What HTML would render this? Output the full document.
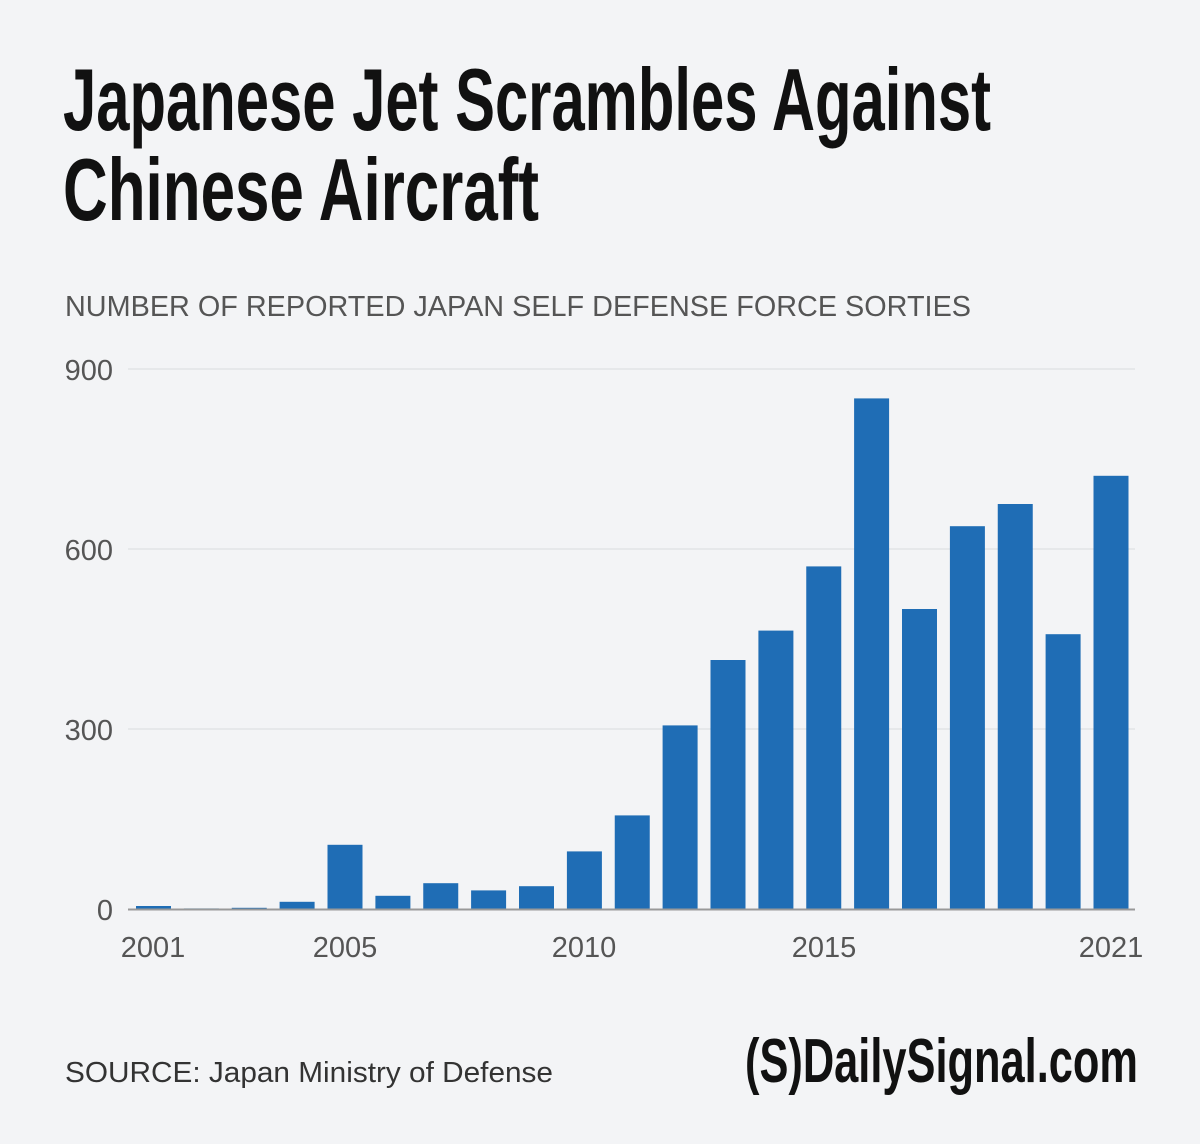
<!DOCTYPE html>
<html><head><meta charset="utf-8"><style>
html,body{margin:0;padding:0;background:#f3f4f6;}
svg{display:block}
</style></head><body>
<svg width="1200" height="1144" viewBox="0 0 1200 1144" xmlns="http://www.w3.org/2000/svg">
<rect width="1200" height="1144" fill="#f3f4f6"/>
<g font-family="'Liberation Sans Narrow','Liberation Sans',sans-serif" font-weight="bold" fill="#111">
<text x="63" y="130" font-size="88" textLength="928" lengthAdjust="spacingAndGlyphs">Japanese Jet Scrambles Against</text>
<text x="63" y="220" font-size="88" textLength="476" lengthAdjust="spacingAndGlyphs">Chinese Aircraft</text>
</g>
<text x="65" y="316" font-family="'Liberation Sans',sans-serif" fill="#555" font-size="29" textLength="906" lengthAdjust="spacingAndGlyphs">NUMBER OF REPORTED JAPAN SELF DEFENSE FORCE SORTIES</text>
<g stroke="#e2e3e6" stroke-width="1.5">
<line x1="128" y1="369" x2="1135" y2="369"/>
<line x1="128" y1="549" x2="1135" y2="549"/>
<line x1="128" y1="729" x2="1135" y2="729"/>
</g>
<g font-family="'Liberation Sans',sans-serif" fill="#555" font-size="29" text-anchor="end">
<text x="113" y="380">900</text>
<text x="113" y="560">600</text>
<text x="113" y="740">300</text>
<text x="113" y="920">0</text>
</g>
<g fill="#1f6db5">
<rect x="136" y="906" width="35" height="3"/>
<rect x="183.9" y="908.4" width="35" height="0.6"/>
<rect x="231.75" y="907.8" width="35" height="1.2"/>
<rect x="279.6" y="901.8" width="35" height="7.2"/>
<rect x="327.5" y="844.8" width="35" height="64.2"/>
<rect x="375.4" y="895.8" width="35" height="13.2"/>
<rect x="423.25" y="883.2" width="35" height="25.8"/>
<rect x="471.1" y="890.4" width="35" height="18.6"/>
<rect x="519" y="886.2" width="35" height="22.8"/>
<rect x="566.9" y="851.4" width="35" height="57.6"/>
<rect x="614.75" y="815.4" width="35" height="93.6"/>
<rect x="662.6" y="725.4" width="35" height="183.6"/>
<rect x="710.5" y="660" width="35" height="249"/>
<rect x="758.4" y="630.6" width="35" height="278.4"/>
<rect x="806.25" y="566.4" width="35" height="342.6"/>
<rect x="854.1" y="398.4" width="35" height="510.6"/>
<rect x="902" y="609" width="35" height="300"/>
<rect x="949.9" y="526.2" width="35" height="382.8"/>
<rect x="997.75" y="504" width="35" height="405"/>
<rect x="1045.6" y="634.2" width="35" height="274.8"/>
<rect x="1093.5" y="475.8" width="35" height="433.2"/>
</g>
<line x1="128" y1="909.5" x2="1135" y2="909.5" stroke="#999" stroke-width="2"/>
<g font-family="'Liberation Sans',sans-serif" fill="#555" font-size="29" text-anchor="middle">
<text x="153" y="957">2001</text>
<text x="345" y="957">2005</text>
<text x="584" y="957">2010</text>
<text x="824" y="957">2015</text>
<text x="1111" y="957">2021</text>
</g>
<text x="65" y="1082" font-family="'Liberation Sans',sans-serif" font-size="29" fill="#333" textLength="488" lengthAdjust="spacingAndGlyphs">SOURCE: Japan Ministry of Defense</text>
<text x="745" y="1082" font-family="'Liberation Sans Narrow','Liberation Sans',sans-serif" font-weight="bold" font-size="62" fill="#111" textLength="393" lengthAdjust="spacingAndGlyphs">(S)DailySignal.com</text>
</svg>
</body></html>
